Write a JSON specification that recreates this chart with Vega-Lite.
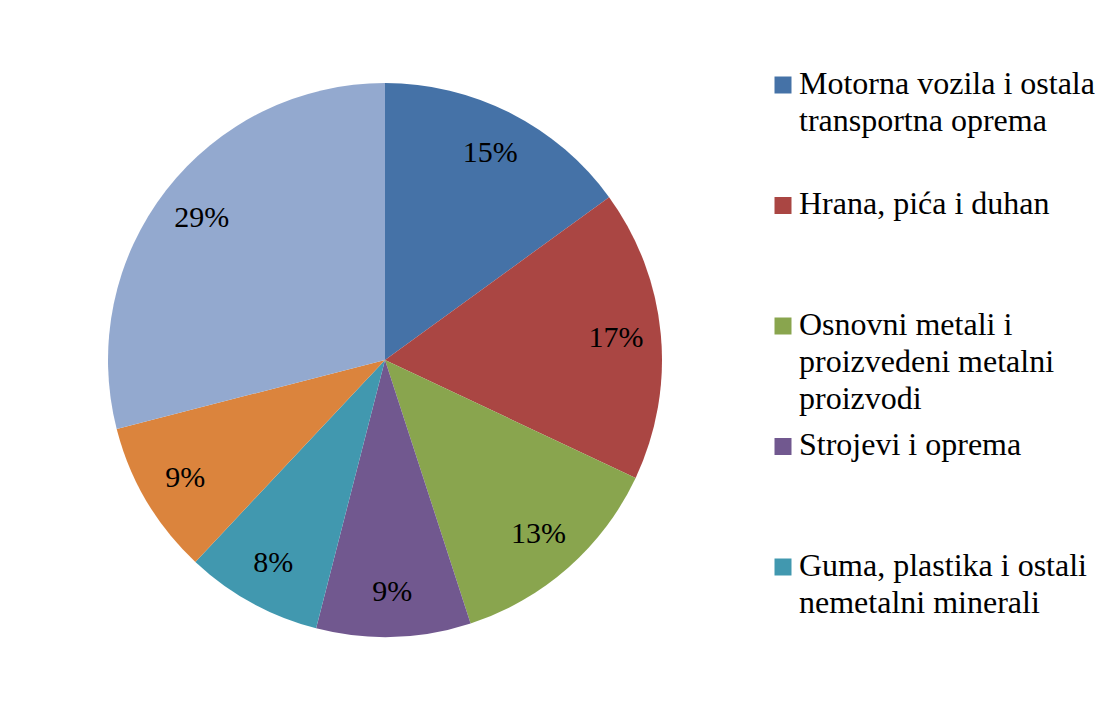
{
  "$schema": "https://vega.github.io/schema/vega-lite/v6.json",
  "width": 770,
  "height": 720,
  "padding": 0,
  "autosize": {"type": "pad"},
  "background": "white",
  "config": {"view": {"stroke": null}, "font": "Liberation Serif"},
  "data": {
    "values": [
      {"sektor": "Motorna vozila i ostala transportna oprema", "udio": 0.15, "red": 1},
      {"sektor": "Hrana, pića i duhan", "udio": 0.17, "red": 2},
      {"sektor": "Osnovni metali i proizvedeni metalni proizvodi", "udio": 0.13, "red": 3},
      {"sektor": "Strojevi i oprema", "udio": 0.09, "red": 4},
      {"sektor": "Guma, plastika i ostali nemetalni minerali", "udio": 0.08, "red": 5},
      {"sektor": "Kemikalije i kemijski proizvodi", "udio": 0.09, "red": 6},
      {"sektor": "Ostale prerađivačke djelatnosti", "udio": 0.29, "red": 7}
    ]
  },
  "encoding": {
    "theta": {"field": "udio", "type": "quantitative", "stack": true},
    "order": {"field": "red", "type": "quantitative"}
  },
  "layer": [
    {
      "mark": {"type": "arc", "radius": 277},
      "encoding": {
        "color": {
          "field": "sektor",
          "type": "nominal",
          "scale": {
            "domain": [
              "Motorna vozila i ostala transportna oprema",
              "Hrana, pića i duhan",
              "Osnovni metali i proizvedeni metalni proizvodi",
              "Strojevi i oprema",
              "Guma, plastika i ostali nemetalni minerali",
              "Kemikalije i kemijski proizvodi",
              "Ostale prerađivačke djelatnosti"
            ],
            "range": ["#4572A7", "#AA4643", "#89A54E", "#71588F", "#4198AF", "#DB843D", "#93A9CF"]
          },
          "legend": {
            "orient": "none",
            "legendX": 767,
            "legendY": 69,
            "title": null,
            "padding": 0,
            "values": [
              "Motorna vozila i ostala transportna oprema",
              "Hrana, pića i duhan",
              "Osnovni metali i proizvedeni metalni proizvodi",
              "Strojevi i oprema",
              "Guma, plastika i ostali nemetalni minerali"
            ],
            "symbolType": "square",
            "symbolSize": 289,
            "symbolStrokeWidth": 0,
            "labelFont": "Liberation Serif",
            "labelFontSize": 32,
            "labelColor": "black",
            "labelBaseline": "alphabetic",
            "labelOffset": 0,
            "labelLimit": 0,
            "rowPadding": 13.5,
            "labelExpr": "datum.label == 'Motorna vozila i ostala transportna oprema' ? ['Motorna vozila i ostala', 'transportna oprema', ''] : datum.label == 'Hrana, pića i duhan' ? ['Hrana, pića i duhan', '', ''] : datum.label == 'Osnovni metali i proizvedeni metalni proizvodi' ? ['Osnovni metali i', 'proizvedeni metalni', 'proizvodi'] : datum.label == 'Strojevi i oprema' ? ['Strojevi i oprema', '', ''] : ['Guma, plastika i ostali', 'nemetalni minerali', '']",
            "encode": {
              "labels": {
                "update": {
                  "dy": {"value": 8.5},
                  "lineHeight": {"value": 37},
                  "font": {"value": "Liberation Serif"},
                  "fontSize": {"value": 32},
                  "fill": {"value": "black"}
                }
              }
            }
          }
        }
      }
    },
    {
      "mark": {"type": "text", "radius": 232, "fontSize": 30, "font": "Liberation Serif", "color": "black"},
      "encoding": {
        "text": {"field": "udio", "type": "quantitative", "format": ".0%"}
      }
    }
  ]
}
